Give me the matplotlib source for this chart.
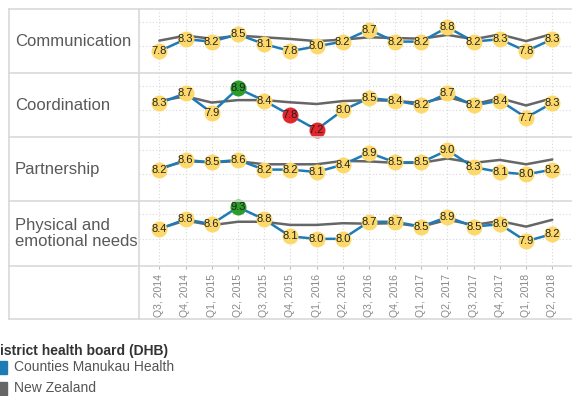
import matplotlib
matplotlib.use("Agg")
import matplotlib.pyplot as plt
from matplotlib.lines import Line2D
from matplotlib.patches import Rectangle

plt.rcParams['font.family'] = ['Liberation Sans', 'DejaVu Sans']

quarters = ["Q3, 2014", "Q4, 2014", "Q1, 2015", "Q2, 2015", "Q3, 2015", "Q4, 2015",
            "Q1, 2016", "Q2, 2016", "Q3, 2016", "Q4, 2016", "Q1, 2017", "Q2, 2017",
            "Q3, 2017", "Q4, 2017", "Q1, 2018", "Q2, 2018", "Q3, 2018"]
measures = ["Communication", "Coordination", "Partnership", "Physical and\nemotional needs"]

cmh_communication = [7.8, 8.3, 8.2, 8.5, 8.1, 7.8, 8.0, 8.2, 8.7, 8.2, 8.2, 8.8, 8.2, 8.3, 7.8, 8.3]
cmh_coordination = [8.3, 8.7, 7.9, 8.9, 8.4, 7.8, 7.2, 8.0, 8.5, 8.4, 8.2, 8.7, 8.2, 8.4, 7.7, 8.3]
cmh_partnership = [8.2, 8.6, 8.5, 8.6, 8.2, 8.2, 8.1, 8.4, 8.9, 8.5, 8.5, 9.0, 8.3, 8.1, 8.0, 8.2]
cmh_physical = [8.4, 8.8, 8.6, 9.3, 8.8, 8.1, 8.0, 8.0, 8.7, 8.7, 8.5, 8.9, 8.5, 8.6, 7.9, 8.2]

nz_communication = [8.24, 8.45, 8.32, 8.45, 8.38, 8.31, 8.22, 8.28, 8.38, 8.35, 8.32, 8.48, 8.30, 8.50, 8.22, 8.52]
nz_coordination = [8.38, 8.58, 8.32, 8.42, 8.42, 8.33, 8.26, 8.38, 8.42, 8.39, 8.30, 8.55, 8.25, 8.50, 8.20, 8.50]
nz_partnership = [8.25, 8.55, 8.50, 8.55, 8.42, 8.42, 8.42, 8.56, 8.54, 8.48, 8.48, 8.66, 8.48, 8.60, 8.42, 8.62]
nz_physical = [8.42, 8.75, 8.56, 8.70, 8.70, 8.57, 8.57, 8.64, 8.62, 8.64, 8.50, 8.78, 8.57, 8.73, 8.50, 8.78]

# significance flags: 1 = higher than NZ (green), -1 = lower (red), 0 = none
sig_communication = [0] * 16
sig_coordination = [0, 0, 0, 1, 0, -1, -1, 0, 0, 0, 0, 0, 0, 0, 0, 0]
sig_partnership = [0] * 16
sig_physical = [0, 0, 0, 1, 0, 0, 0, 0, 0, 0, 0, 0, 0, 0, 0, 0]

cmh_series = [cmh_communication, cmh_coordination, cmh_partnership, cmh_physical]
nz_series = [nz_communication, nz_coordination, nz_partnership, nz_physical]
sig_series = [sig_communication, sig_coordination, sig_partnership, sig_physical]

BLUE = '#1f7bb6'
GREY = '#666666'
YELLOW = '#fcd96a'
GREEN = '#2a9d2a'
RED = '#e3262b'
LINEC = '#d9d9d9'
sig_color = {0: YELLOW, 1: GREEN, -1: RED}

W, H = 572, 396
fig = plt.figure(figsize=(W / 100, H / 100), dpi=100)


def fx(px):
    return px / W


def fy(py):
    return 1 - py / H


row_edges = [9.3, 72.7, 137.0, 201.0, 265.7]
bottom_px = 319.0
left_px, right_px = 139.0, 640.0
x0, dx = 159.3, 26.2
xlim = ((left_px - x0) / dx, (right_px - x0) / dx)
ylim = (6.9, 9.55)
label_y = [41.0, 105.0, 169.3, 233.5]

axes = []
for k in range(4):
    top, bot = row_edges[k], row_edges[k + 1]
    ax = fig.add_axes([fx(left_px), fy(bot), fx(right_px) - fx(left_px), (bot - top) / H])
    ax.set_xlim(*xlim)
    ax.set_ylim(*ylim)
    ax.patch.set_alpha(0)
    for s in ax.spines.values():
        s.set_visible(False)
    ax.set_yticks([8, 9])
    ax.set_xticks(range(len(quarters)))
    ax.tick_params(axis='y', left=False, labelleft=False)
    ax.grid(True, color='#d8d8d8', linestyle=(0, (1, 2)), linewidth=0.8)
    ax.set_axisbelow(True)
    xs = list(range(len(cmh_series[k])))
    ax.plot(xs, nz_series[k], color=GREY, lw=1.8, zorder=2, solid_capstyle='round')
    ax.plot(xs, cmh_series[k], color=BLUE, lw=1.8, zorder=3, solid_capstyle='round')
    for i, v in enumerate(cmh_series[k]):
        ax.plot(i, v, 'o', ms=11.5, mfc=sig_color[sig_series[k][i]], mec='none', zorder=4, clip_on=False)
        ax.text(i, v, f"{v:.1f}", ha='center', va='center', fontsize=8, color='#222222', zorder=5)
    if k < 3:
        ax.tick_params(axis='x', bottom=False, labelbottom=False)
    else:
        ax.set_xticklabels(quarters, rotation=90, fontsize=7.5, color='#888888')
        ax.tick_params(axis='x', length=2.5, color='#bbbbbb', pad=3.5)
    axes.append(ax)
    fig.text(fx(15), fy(label_y[k]), measures[k], ha='left', va='center', fontsize=12,
             color='#595959', linespacing=1.1)

# table lines
for y in row_edges + [bottom_px]:
    fig.add_artist(Line2D([fx(9), fx(W + 10)], [fy(y), fy(y)], color=LINEC, lw=1.2))
for x in [9.0, 139.0]:
    fig.add_artist(Line2D([fx(x), fx(x)], [fy(row_edges[0]), fy(bottom_px)], color=LINEC, lw=1.2))

# legend
fig.text(fx(-10), fy(351), "District health board (DHB)", ha='left', va='center',
         fontsize=10, fontweight='bold', color='#333333')
legend_items = [("Counties Manukau Health", BLUE, 367.3), ("New Zealand", GREY, 388.0)]
for name, col, yc in legend_items:
    fig.add_artist(Rectangle((fx(-6), fy(yc + 6.5)), 13 / W, 13 / H, color=col,
                             transform=fig.transFigure))
    fig.text(fx(14), fy(yc), name, ha='left', va='center', fontsize=10, color='#555555')

fig.savefig("out.png", dpi=100)
